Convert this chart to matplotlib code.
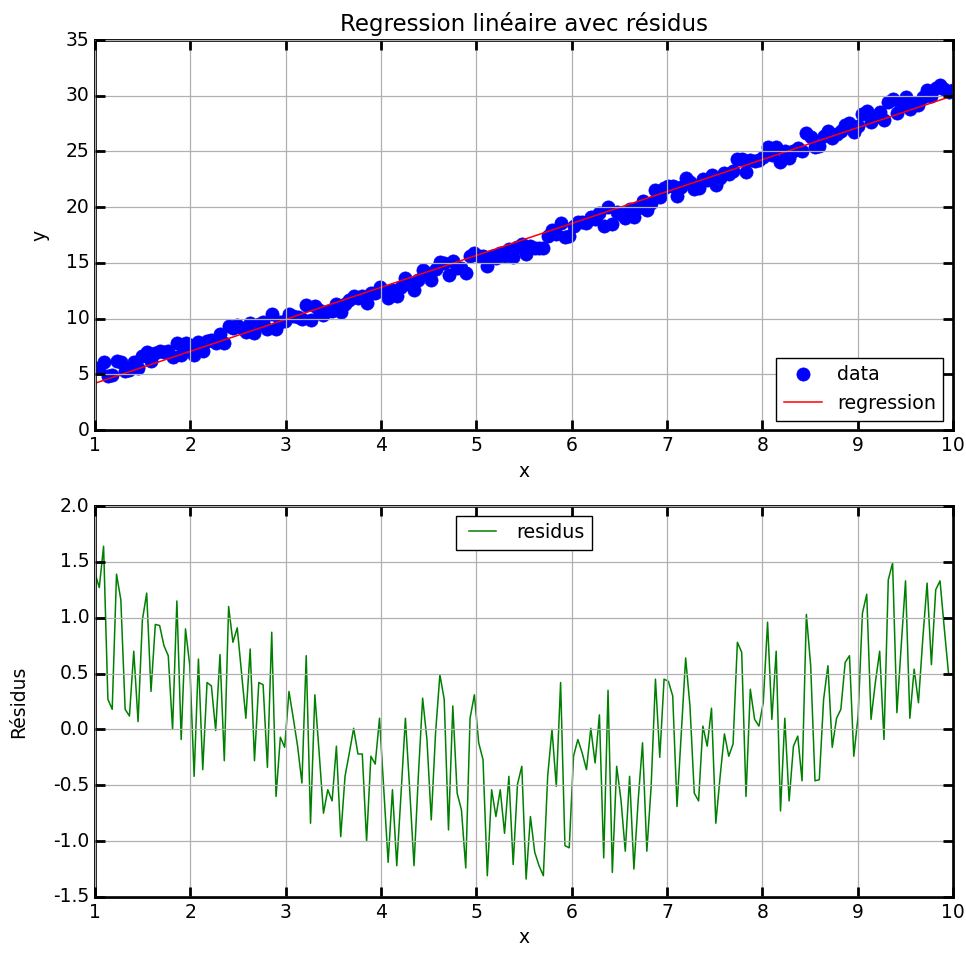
import numpy as np
import matplotlib
matplotlib.use("Agg")
import matplotlib.pyplot as plt

plt.style.use("classic")
plt.rcParams['font.family'] = ['DejaVu Sans']
plt.rcParams['axes.unicode_minus'] = False

# Data
n_points = 200
x_min, x_max = 1.0, 10.0
intercept = 1.333
slope = 2.867

residus = [
    1.40, 1.27, 1.64, 0.27, 0.18, 1.39, 1.16, 0.18, 0.12, 0.70,
    0.07, 0.98, 1.22, 0.34, 0.94, 0.93, 0.75, 0.66, 0.00, 1.15,
    -0.09, 0.90, 0.57, -0.42, 0.63, -0.36, 0.42, 0.39, -0.01, 0.67,
    -0.28, 1.10, 0.78, 0.91, 0.51, 0.10, 0.72, -0.28, 0.42, 0.40,
    -0.34, 0.87, -0.60, -0.07, -0.16, 0.34, 0.10, -0.15, -0.48, 0.66,
    -0.84, 0.31, -0.21, -0.75, -0.54, -0.64, -0.15, -0.96, -0.42, -0.21,
    0.01, -0.22, -0.22, -1.00, -0.24, -0.31, 0.10, -0.54, -1.19, -0.54,
    -1.22, -0.57, 0.10, -0.54, -1.22, -0.42, 0.28, -0.09, -0.81, -0.03,
    0.49, 0.27, -0.90, 0.21, -0.57, -0.72, -1.24, 0.10, 0.31, -0.12,
    -0.27, -1.31, -0.54, -0.78, -0.54, -0.93, -0.42, -1.21, -0.49, -0.33,
    -1.34, -0.78, -1.10, -1.22, -1.31, -0.42, 0.00, -0.51, 0.42, -1.04,
    -1.06, -0.24, -0.09, -0.21, -0.36, 0.01, -0.30, 0.13, -1.15, 0.35,
    -1.28, -0.33, -0.63, -1.09, -0.42, -1.25, -0.63, -0.12, -1.09, -0.51,
    0.45, -0.25, 0.45, 0.43, 0.30, -0.69, -0.03, 0.64, 0.21, -0.57,
    -0.64, 0.03, -0.15, 0.19, -0.84, -0.42, -0.04, -0.24, -0.13, 0.78,
    0.69, -0.60, 0.36, 0.09, 0.03, 0.24, 0.96, 0.09, 0.70, -0.73,
    0.10, -0.64, -0.15, -0.06, -0.46, 1.03, 0.57, -0.46, -0.45, 0.27,
    0.57, -0.16, 0.10, 0.18, 0.60, 0.66, -0.24, 0.12, 1.04, 1.21,
    0.09, 0.42, 0.70, -0.09, 1.34, 1.49, 0.15, 0.75, 1.33, 0.10,
    0.54, 0.24, 0.81, 1.31, 0.58, 1.25, 1.33, 0.90, 0.49, 0.50,
]

x = np.linspace(x_min, x_max, n_points)
res = np.array(residus)
y_fit = intercept + slope * x
y_data = y_fit + res

top_yticks = [0, 5, 10, 15, 20, 25, 30, 35]
bot_yticks = [-1.5, -1.0, -0.5, 0.0, 0.5, 1.0, 1.5, 2.0]
xticks = [1, 2, 3, 4, 5, 6, 7, 8, 9, 10]

fig = plt.figure(figsize=(9.66, 9.58), dpi=100, facecolor='white')
ax1 = fig.add_axes([0.0983, 0.5511, 0.8882, 0.4071])
ax2 = fig.add_axes([0.0983, 0.0637, 0.8882, 0.4081])

ax1.plot(x, y_data, 'o', color='b', mec='b', markersize=9.5, label='data')
ax1.plot(x, y_fit, '-', color='r', lw=1.1, label='regression')
ax1.set_xlim(1, 10)
ax1.set_ylim(0, 35)
ax1.set_xticks(xticks)
ax1.set_yticks(top_yticks)
ax1.set_xlabel('x', fontsize=13.5)
ax1.set_ylabel('y', fontsize=13.5, labelpad=12)
ax1.set_title('Regression linéaire avec résidus', fontsize=16.5, y=1.005)
ax1.grid(True, color='#b0b0b0', linestyle='-', linewidth=0.9)
ax1.legend(loc='lower right', numpoints=1, fontsize=13.7)

ax2.plot(x, res, '-', color='g', lw=1.1, label='residus')
ax2.set_xlim(1, 10)
ax2.set_ylim(-1.5, 2.0)
ax2.set_xticks(xticks)
ax2.set_yticks(bot_yticks)
ax2.set_xlabel('x', fontsize=13.5)
ax2.set_ylabel('Résidus', fontsize=13.5, labelpad=18)
ax2.grid(True, color='#b0b0b0', linestyle='-', linewidth=0.9)
ax2.legend(loc='upper center', fontsize=13.7)

for ax in (ax1, ax2):
    for sp in ax.spines.values():
        sp.set_linewidth(2)
    ax.tick_params(width=2, length=7, labelsize=13.5)

fig.savefig('out.png', dpi=100, facecolor='white')
